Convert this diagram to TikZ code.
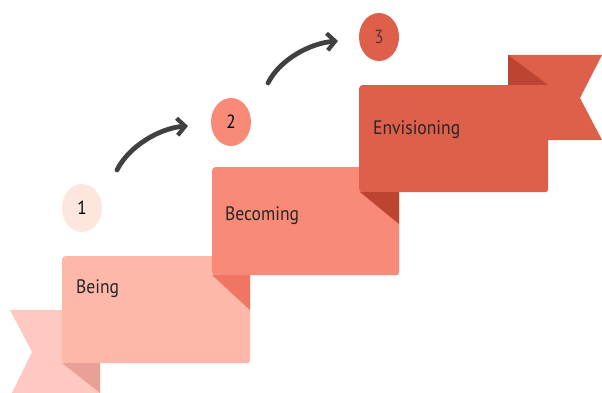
\documentclass[tikz,border=0pt]{standalone}
\usepackage{fontspec}
\setmainfont{PT Sans}
\newfontfamily\narrowface[FakeStretch=0.9]{PT Sans}
\usetikzlibrary{shapes.geometric,arrows.meta}

\definecolor{tailA}{HTML}{FFC9C1}
\definecolor{foldA}{HTML}{E9A097}
\definecolor{boxA}{HTML}{FDB8AA}
\definecolor{foldB}{HTML}{F07562}
\definecolor{boxB}{HTML}{F98A77}
\definecolor{foldC}{HTML}{BC4431}
\definecolor{boxC}{HTML}{DE5F4A}
\definecolor{dotA}{HTML}{FDE6DC}
\definecolor{arrowgray}{HTML}{404040}
\definecolor{inkC}{HTML}{5A3530}

\tikzset{
  stepbox/.style={rectangle, rounded corners=3pt, anchor=north west, inner sep=0pt},
  steplabel/.style={anchor=base west, inner sep=0pt,
                    font=\narrowface\fontsize{19.5}{22}\selectfont, text=black!85},
  stepdot/.style={ellipse, minimum width=40pt, minimum height=48pt, inner sep=0pt,
                  font=\narrowface\fontsize{19}{22}\selectfont},
  stepflow/.style={draw=arrowgray, line width=4.8pt, line cap=round,
                   -{Straight Barb[length=8pt,width=17pt,line width=4.2pt]}},
}

\begin{document}
\begin{tikzpicture}[x=1pt,y=-1pt]
\useasboundingbox (0,0) rectangle (602,393);

% ribbon tail behind the first step
\fill[tailA] (10,310) -- (100,310) -- (100,393) -- (12,393) -- (32,352) -- cycle;
\fill[foldA] (62,363) -- (100,363) -- (100,393) -- cycle;

% step 1
\node[stepbox, fill=boxA, minimum width=188pt, minimum height=107pt] (b1) at (62,256) {};
% step 2
\node[stepbox, fill=boxB, minimum width=187pt, minimum height=108pt] (b2) at (212,167) {};
\fill[foldB] (212,275) -- (250,275) -- (250,310) -- cycle;

% ribbon tail behind the third step
\fill[boxC] (508,55) -- (602,55) -- (580,98) -- (602,140) -- (508,140) -- cycle;
% step 3
\node[stepbox, fill=boxC, minimum width=189pt, minimum height=107pt] (b3) at (359,85) {};
\fill[foldC] (360,192) -- (399,192) -- (399,224) -- cycle;
\fill[foldC] (508,55) -- (548,85) -- (508,85) -- cycle;

% step titles
\node[steplabel] (t1) at (76,293) {Being};
\node[steplabel] (t2) at (225,220) {Becoming};
\node[steplabel] (t3) at (373,135) {Envisioning};

% numbered markers
\node[stepdot, fill=dotA] (n1) at (82,208) {1};
\node[stepdot, fill=boxB] (n2) at (231,122) {2};
\node[stepdot, fill=boxC, text=inkC] (n3) at (379,37) {3};

% progress arrows between the markers
\coordinate (a1s) at (117,170);
\coordinate (a1e) at (188,126);
\coordinate (a2s) at (268,83);
\coordinate (a2e) at (338,41);
\draw[stepflow] (a1s) .. controls (129,146) and (160,128) .. (a1e);
\draw[stepflow] (a2s) .. controls (280,59) and (311,43) .. (a2e);
\end{tikzpicture}
\end{document}
